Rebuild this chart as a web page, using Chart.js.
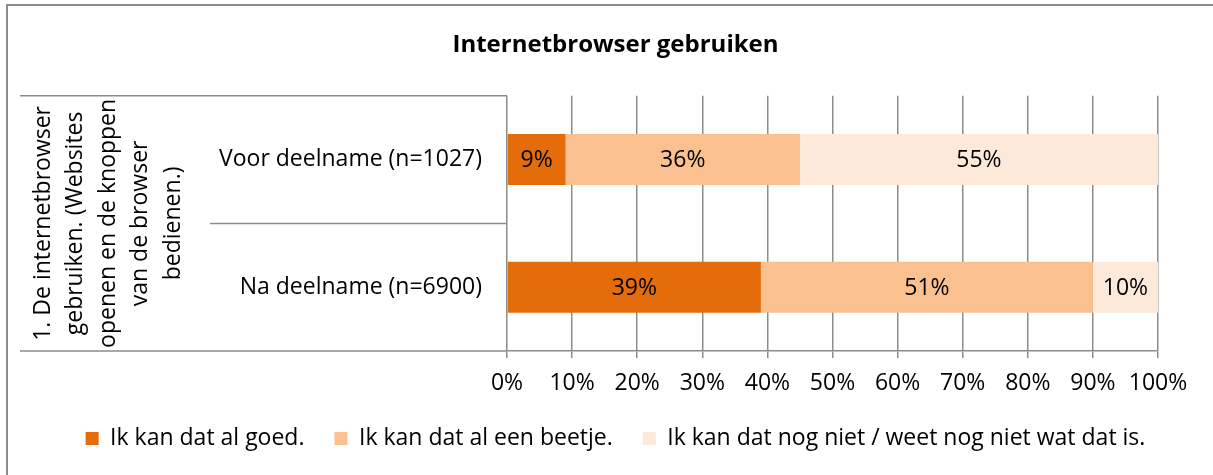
<!DOCTYPE html>
<html>
<head>
<meta charset="utf-8">
<script src="https://cdn.jsdelivr.net/npm/chart.js@4"></script>
<style>
  html, body { margin: 0; padding: 0; background: #fff; }
  #wrap { width: 1213px; height: 475px; }
</style>
</head>
<body>
<div id="wrap"><canvas id="chart" width="1213" height="475"></canvas></div>
<script>
// data
const categories = ['Voor deelname (n=1027)', 'Na deelname (n=6900)'];
const seriesNames = ['Ik kan dat al goed.', 'Ik kan dat al een beetje.', 'Ik kan dat nog niet / weet nog niet wat dat is.'];
const goed = [9, 39];
const beetje = [36, 51];
const nogNiet = [55, 10];
const xTicks = [0, 10, 20, 30, 40, 50, 60, 70, 80, 90, 100];
const groupLabel = ['1. De internetbrowser', 'gebruiken. (Websites', 'openen en de knoppen', 'van de browser', 'bedienen.)'];

const colors = ['#E46C0A', '#FAC090', '#FDE9D9'];
const gridColor = '#8c8c8c';
const fontFamily = '"Open Sans", sans-serif';
const fontSize = 23;

// percentage labels inside the segments
const segmentLabels = {
    id: 'segmentLabels',
    afterDatasetsDraw(chart) {
        const ctx = chart.ctx;
        ctx.save();
        ctx.font = fontSize + 'px ' + fontFamily;
        ctx.fillStyle = '#000';
        ctx.textAlign = 'center';
        ctx.textBaseline = 'middle';
        chart.data.datasets.forEach(function(ds, i) {
            const meta = chart.getDatasetMeta(i);
            meta.data.forEach(function(bar, j) {
                const x = (bar.x + bar.base) / 2;
                ctx.fillText(ds.data[j] + '%', x, bar.y + 1);
            });
        });
        ctx.restore();
    }
};

// the grouped category box on the left + outer frame
const groupBox = {
    id: 'groupBox',
    afterDraw(chart) {
        const ctx = chart.ctx;
        const y = chart.scales.y;
        const area = chart.chartArea;
        const band = (y.bottom - y.top) / categories.length;
        ctx.save();
        ctx.strokeStyle = gridColor;
        ctx.lineWidth = 1.5;
        ctx.beginPath();
        ctx.moveTo(20, y.top); ctx.lineTo(area.left, y.top);
        ctx.moveTo(20, y.bottom); ctx.lineTo(area.left, y.bottom);
        for (let i = 1; i < categories.length; i++) {
            const yy = y.top + band * i;
            ctx.moveTo(210, yy); ctx.lineTo(area.left, yy);
        }
        ctx.stroke();

        // outer frame
        ctx.lineWidth = 2;
        ctx.strokeRect(7, 5, 1400, 700);

        // rotated group label
        ctx.font = fontSize + 'px ' + fontFamily;
        ctx.fillStyle = '#000';
        ctx.textAlign = 'center';
        ctx.textBaseline = 'middle';
        ctx.translate(108, (y.top + y.bottom) / 2);
        ctx.rotate(-Math.PI / 2);
        const lh = 32.5;
        groupLabel.forEach(function(line, i) {
            ctx.fillText(line, 0, (i - (groupLabel.length - 1) / 2) * lh);
        });
        ctx.restore();
    }
};

new Chart(document.getElementById('chart'), {
    type: 'bar',
    data: {
        labels: categories,
        datasets: [
            { label: seriesNames[0], data: goed, backgroundColor: colors[0] },
            { label: seriesNames[1], data: beetje, backgroundColor: colors[1] },
            { label: seriesNames[2], data: nogNiet, backgroundColor: colors[2] }
        ]
    },
    options: {
        indexAxis: 'y',
        responsive: false,
        animation: false,
        events: [],
        layout: { padding: { top: 0, right: 0, bottom: 15, left: 18 } },
        datasets: { bar: { categoryPercentage: 1, barPercentage: 0.4 } },
        scales: {
            x: {
                stacked: true,
                min: 0,
                max: 100,
                afterBuildTicks(scale) {
                    scale.ticks = xTicks.map(v => ({ value: v }));
                },
                afterFit(scale) { scale.height = 46; },
                ticks: {
                    callback: v => v + '%',
                    padding: 12,
                    color: '#000',
                    font: { family: fontFamily, size: fontSize },
                    maxRotation: 0
                },
                grid: { color: gridColor, lineWidth: 1.5, tickLength: 7 },
                border: { display: true, color: gridColor, width: 1.5 }
            },
            y: {
                stacked: true,
                afterFit(scale) { scale.width = 489; },
                ticks: {
                    padding: 25,
                    color: '#000',
                    font: { family: fontFamily, size: fontSize }
                },
                grid: { display: false, drawTicks: false },
                border: { display: false }
            },
            // empty spacer on the right so the plot ends at 100% like the original
            spacer: {
                type: 'linear',
                position: 'right',
                afterFit(scale) { scale.width = 55; },
                ticks: { display: false },
                grid: { display: false },
                border: { display: false }
            }
        },
        plugins: {
            title: {
                display: true,
                text: 'Internetbrowser gebruiken',
                color: '#000',
                font: { family: fontFamily, size: 24, weight: 'bold' },
                padding: { top: 31, bottom: 36 }
            },
            legend: {
                position: 'bottom',
                labels: {
                    boxWidth: 13,
                    boxHeight: 13,
                    padding: 30,
                    color: '#000',
                    font: { family: fontFamily, size: fontSize }
                }
            },
            tooltip: { enabled: false }
        }
    },
    plugins: [segmentLabels, groupBox]
});
</script>
</body>
</html>
